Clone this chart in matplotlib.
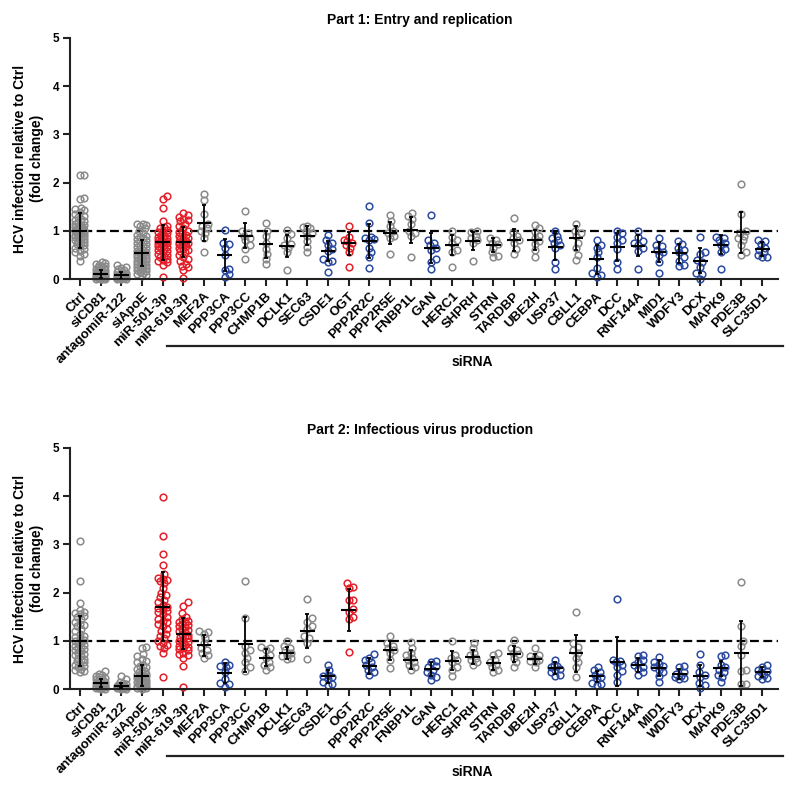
import numpy as np
import matplotlib
matplotlib.use("Agg")
import matplotlib.pyplot as plt
import matplotlib.transforms as mtransforms

plt.rcParams['font.family'] = ['Liberation Sans', 'DejaVu Sans']
plt.rcParams['font.weight'] = 'bold'

categories = ["Ctrl", "siCD81", "antagomiR-122", "siApoE", "miR-501-3p", "miR-619-3p",
              "MEF2A", "PPP3CA", "PPP3CC", "CHMP1B", "DCLK1", "SEC63", "CSDE1", "OGT",
              "PPP2R2C", "PPP2R5E", "FNBP1L", "GAN", "HERC1", "SHPRH", "STRN", "TARDBP",
              "UBE2H", "USP37", "CBLL1", "CEBPA", "DCC", "RNF144A", "MID1", "WDFY3", "DCX",
              "MAPK9", "PDE3B", "SLC35D1"]

# colour group per category: g = grey, r = red, b = blue
color_groups = ["g", "g", "g", "g", "r", "r", "g", "b", "g", "g", "g", "g", "b", "r",
                "b", "g", "g", "b", "g", "g", "g", "g", "g", "b", "g", "b", "b", "b",
                "b", "b", "b", "b", "g", "b"]

# ---------------- Part 1: Entry and replication ----------------
part1_mean = [1.00, 0.10, 0.08, 0.53, 0.76, 0.76, 1.16, 0.49, 0.90, 0.72, 0.69, 0.90,
              0.58, 0.74, 0.79, 0.95, 1.01, 0.65, 0.71, 0.79, 0.71, 0.81, 0.81, 0.67,
              0.85, 0.41, 0.67, 0.69, 0.56, 0.53, 0.38, 0.71, 0.97, 0.62]
part1_sd = [0.36, 0.08, 0.07, 0.27, 0.37, 0.31, 0.38, 0.33, 0.26, 0.28, 0.23, 0.19,
            0.21, 0.24, 0.36, 0.23, 0.27, 0.31, 0.21, 0.19, 0.14, 0.23, 0.20, 0.28,
            0.25, 0.30, 0.29, 0.22, 0.21, 0.19, 0.26, 0.20, 0.43, 0.15]
part1_points = [
    [2.16, 2.15, 1.69, 1.65, 1.47, 1.45, 1.43, 1.40, 1.35, 1.30, 1.28, 1.25, 1.22, 1.20,
     1.18, 1.15, 1.13, 1.12, 1.10, 1.08, 1.06, 1.05, 1.04, 1.02, 1.01, 1.00, 0.99, 0.98,
     0.97, 0.96, 0.95, 0.94, 0.92, 0.91, 0.90, 0.88, 0.87, 0.85, 0.83, 0.82, 0.80, 0.78,
     0.76, 0.74, 0.72, 0.70, 0.68, 0.65, 0.62, 0.58, 0.55, 0.52, 0.48, 0.37],
    [0.35, 0.33, 0.32, 0.30, 0.28, 0.27, 0.25, 0.24, 0.22, 0.21, 0.20, 0.19, 0.18, 0.17,
     0.16, 0.15, 0.14, 0.13, 0.12, 0.12, 0.11, 0.10, 0.10, 0.09, 0.08, 0.08, 0.07, 0.07,
     0.06, 0.06, 0.05, 0.05, 0.04, 0.04, 0.03, 0.03, 0.02, 0.02, 0.01, 0.01, 0.00, 0.00],
    [0.30, 0.25, 0.22, 0.20, 0.18, 0.15, 0.14, 0.12, 0.11, 0.10, 0.09, 0.08, 0.08, 0.07,
     0.06, 0.06, 0.05, 0.05, 0.04, 0.04, 0.03, 0.03, 0.02, 0.02, 0.01, 0.01, 0.00],
    [1.15, 1.14, 1.12, 1.10, 1.05, 1.00, 0.95, 0.92, 0.90, 0.88, 0.85, 0.82, 0.80, 0.78,
     0.76, 0.74, 0.72, 0.70, 0.68, 0.66, 0.64, 0.62, 0.60, 0.58, 0.56, 0.55, 0.53, 0.52,
     0.50, 0.48, 0.47, 0.45, 0.43, 0.42, 0.40, 0.38, 0.37, 0.35, 0.33, 0.32, 0.30, 0.28,
     0.26, 0.25, 0.23, 0.21, 0.20, 0.18, 0.16, 0.14, 0.12, 0.10, 0.08, 0.06],
    [1.72, 1.67, 1.47, 1.20, 1.10, 1.08, 1.05, 1.02, 1.00, 0.98, 0.95, 0.92, 0.90, 0.88,
     0.85, 0.83, 0.82, 0.80, 0.78, 0.77, 0.76, 0.75, 0.74, 0.72, 0.70, 0.68, 0.66, 0.64,
     0.62, 0.60, 0.58, 0.55, 0.52, 0.50, 0.48, 0.45, 0.42, 0.40, 0.38, 0.35, 0.30, 0.05],
    [1.37, 1.32, 1.28, 1.25, 1.22, 1.20, 1.15, 1.10, 1.05, 1.00, 0.98, 0.95, 0.92, 0.90,
     0.88, 0.85, 0.82, 0.80, 0.78, 0.77, 0.76, 0.75, 0.74, 0.72, 0.70, 0.68, 0.65, 0.62,
     0.60, 0.58, 0.55, 0.50, 0.45, 0.42, 0.38, 0.32, 0.28, 0.25, 0.18, 0.02],
    [1.77, 1.64, 1.35, 1.15, 1.10, 1.05, 1.00, 0.95, 0.85, 0.57],
    [1.02, 0.75, 0.72, 0.65, 0.50, 0.20, 0.18, 0.10, 0.05],
    [1.42, 1.00, 0.95, 0.90, 0.85, 0.80, 0.70, 0.62, 0.42],
    [1.17, 1.00, 0.90, 0.75, 0.62, 0.52, 0.42, 0.31],
    [1.02, 0.93, 0.85, 0.72, 0.70, 0.65, 0.55, 0.18],
    [1.10, 1.08, 1.05, 1.00, 0.95, 0.90, 0.78, 0.66, 0.55],
    [0.92, 0.80, 0.75, 0.70, 0.62, 0.58, 0.42, 0.38, 0.35, 0.15],
    [1.10, 0.88, 0.80, 0.78, 0.75, 0.70, 0.65, 0.55, 0.24],
    [1.52, 1.17, 0.88, 0.85, 0.82, 0.80, 0.65, 0.55, 0.45, 0.22],
    [1.32, 1.20, 1.10, 1.00, 0.95, 0.90, 0.85, 0.52],
    [1.37, 1.30, 1.25, 1.15, 1.00, 0.95, 0.90, 0.45],
    [1.32, 0.80, 0.75, 0.70, 0.65, 0.60, 0.42, 0.36, 0.20],
    [1.00, 0.88, 0.80, 0.75, 0.60, 0.55, 0.25],
    [1.00, 0.98, 0.90, 0.85, 0.80, 0.75, 0.38],
    [0.85, 0.80, 0.75, 0.72, 0.65, 0.55, 0.48, 0.45],
    [1.27, 0.98, 0.90, 0.85, 0.80, 0.75, 0.62, 0.52],
    [1.12, 1.05, 0.98, 0.90, 0.85, 0.78, 0.72, 0.60, 0.45],
    [1.00, 0.90, 0.85, 0.80, 0.75, 0.70, 0.65, 0.35, 0.20],
    [1.15, 1.00, 0.95, 0.90, 0.75, 0.65, 0.50, 0.40],
    [0.80, 0.70, 0.65, 0.55, 0.45, 0.22, 0.12, 0.08, 0.05],
    [1.00, 0.95, 0.88, 0.80, 0.75, 0.62, 0.35, 0.20],
    [1.00, 0.88, 0.78, 0.75, 0.70, 0.65, 0.58, 0.20],
    [0.85, 0.70, 0.68, 0.60, 0.55, 0.50, 0.35, 0.12],
    [0.78, 0.72, 0.65, 0.60, 0.55, 0.45, 0.38, 0.30, 0.27],
    [0.88, 0.55, 0.52, 0.40, 0.35, 0.25, 0.12, 0.10, 0.00],
    [0.88, 0.85, 0.80, 0.75, 0.70, 0.62, 0.55, 0.20],
    [1.98, 1.35, 1.00, 0.95, 0.90, 0.85, 0.80, 0.70, 0.55, 0.50],
    [0.80, 0.78, 0.72, 0.65, 0.60, 0.55, 0.50, 0.45, 0.45],
]

# ---------------- Part 2: Infectious virus production ----------------
part2_mean = [1.00, 0.12, 0.07, 0.28, 1.71, 1.15, 0.91, 0.33, 0.93, 0.65, 0.75, 1.21,
              0.26, 1.64, 0.48, 0.80, 0.61, 0.41, 0.59, 0.66, 0.53, 0.72, 0.62, 0.43,
              0.74, 0.26, 0.57, 0.50, 0.44, 0.31, 0.28, 0.43, 0.74, 0.35]
part2_sd = [0.52, 0.08, 0.05, 0.21, 0.72, 0.33, 0.22, 0.20, 0.57, 0.18, 0.12, 0.35,
            0.14, 0.43, 0.16, 0.20, 0.19, 0.14, 0.19, 0.15, 0.13, 0.17, 0.11, 0.12,
            0.39, 0.12, 0.50, 0.14, 0.16, 0.10, 0.22, 0.16, 0.67, 0.10]
part2_points = [
    [3.07, 2.24, 1.78, 1.63, 1.60, 1.58, 1.55, 1.52, 1.50, 1.45, 1.40, 1.35, 1.32, 1.30,
     1.25, 1.20, 1.15, 1.10, 1.08, 1.05, 1.02, 1.00, 0.97, 0.95, 0.92, 0.90, 0.88, 0.85,
     0.82, 0.80, 0.78, 0.75, 0.72, 0.70, 0.68, 0.65, 0.62, 0.60, 0.58, 0.55, 0.52, 0.50,
     0.48, 0.45, 0.42, 0.40, 0.38, 0.36],
    [0.38, 0.32, 0.30, 0.27, 0.25, 0.23, 0.21, 0.20, 0.18, 0.17, 0.16, 0.15, 0.14, 0.13,
     0.12, 0.11, 0.10, 0.10, 0.09, 0.08, 0.08, 0.07, 0.06, 0.06, 0.05, 0.05, 0.04, 0.03,
     0.03, 0.02, 0.01, 0.00],
    [0.27, 0.20, 0.15, 0.12, 0.10, 0.09, 0.08, 0.07, 0.06, 0.06, 0.05, 0.05, 0.04, 0.04,
     0.03, 0.03, 0.02, 0.02, 0.01, 0.00],
    [0.87, 0.85, 0.72, 0.68, 0.62, 0.58, 0.55, 0.50, 0.48, 0.45, 0.42, 0.40, 0.38, 0.36,
     0.34, 0.32, 0.30, 0.28, 0.27, 0.26, 0.25, 0.24, 0.23, 0.22, 0.20, 0.19, 0.18, 0.17,
     0.16, 0.15, 0.14, 0.13, 0.12, 0.11, 0.10, 0.09, 0.08, 0.07, 0.06, 0.05, 0.04, 0.03,
     0.02, 0.01],
    [3.98, 3.17, 2.81, 2.58, 2.38, 2.30, 2.28, 2.27, 2.25, 2.20, 2.10, 2.00, 1.95, 1.90,
     1.85, 1.80, 1.75, 1.70, 1.68, 1.65, 1.62, 1.60, 1.55, 1.50, 1.45, 1.42, 1.38, 1.35,
     1.30, 1.25, 1.20, 1.15, 1.10, 1.05, 1.00, 0.95, 0.92, 0.90, 0.85, 0.75, 0.25],
    [1.80, 1.72, 1.57, 1.50, 1.45, 1.42, 1.40, 1.38, 1.35, 1.32, 1.30, 1.28, 1.25, 1.22,
     1.20, 1.18, 1.15, 1.12, 1.10, 1.08, 1.05, 1.02, 1.00, 0.98, 0.95, 0.92, 0.90, 0.88,
     0.85, 0.82, 0.80, 0.75, 0.72, 0.70, 0.65, 0.47, 0.05],
    [1.20, 1.18, 1.15, 1.05, 0.95, 0.85, 0.80, 0.75, 0.70, 0.65],
    [0.55, 0.50, 0.48, 0.45, 0.35, 0.20, 0.12, 0.10, 0.05],
    [2.25, 1.48, 0.90, 0.80, 0.75, 0.65, 0.55, 0.45, 0.38],
    [0.88, 0.85, 0.80, 0.70, 0.65, 0.55, 0.50, 0.45, 0.40],
    [1.00, 0.90, 0.85, 0.80, 0.75, 0.70, 0.68, 0.65, 0.62],
    [1.87, 1.47, 1.40, 1.30, 1.25, 1.10, 1.05, 0.95, 0.62],
    [0.50, 0.40, 0.30, 0.28, 0.25, 0.20, 0.15, 0.10, 0.08],
    [2.20, 2.12, 2.10, 1.85, 1.84, 1.65, 1.60, 1.50, 1.45, 0.76],
    [0.72, 0.65, 0.60, 0.55, 0.50, 0.45, 0.40, 0.35, 0.30],
    [1.10, 0.95, 0.90, 0.85, 0.80, 0.75, 0.60, 0.44],
    [0.98, 0.85, 0.75, 0.70, 0.65, 0.60, 0.55, 0.50, 0.45, 0.40],
    [0.58, 0.55, 0.48, 0.45, 0.40, 0.35, 0.30, 0.25, 0.18],
    [1.00, 0.70, 0.65, 0.60, 0.55, 0.45, 0.40, 0.28],
    [0.95, 0.85, 0.75, 0.70, 0.65, 0.60, 0.55, 0.50],
    [0.75, 0.70, 0.60, 0.55, 0.50, 0.45, 0.40, 0.35],
    [1.02, 0.85, 0.80, 0.75, 0.72, 0.65, 0.55, 0.45],
    [0.85, 0.70, 0.68, 0.65, 0.60, 0.58, 0.55, 0.45],
    [0.60, 0.50, 0.48, 0.45, 0.42, 0.40, 0.35, 0.30, 0.28],
    [1.60, 0.95, 0.88, 0.80, 0.75, 0.65, 0.55, 0.45, 0.25],
    [0.45, 0.40, 0.35, 0.30, 0.25, 0.20, 0.12, 0.10, 0.08],
    [1.86, 0.60, 0.58, 0.55, 0.50, 0.45, 0.38, 0.30, 0.15],
    [0.70, 0.68, 0.60, 0.55, 0.50, 0.45, 0.42, 0.35, 0.30],
    [0.67, 0.55, 0.52, 0.48, 0.45, 0.40, 0.35, 0.28, 0.15],
    [0.48, 0.45, 0.35, 0.32, 0.28, 0.25, 0.22, 0.20],
    [0.72, 0.50, 0.35, 0.30, 0.25, 0.12, 0.08, 0.02],
    [0.70, 0.68, 0.50, 0.45, 0.40, 0.35, 0.30, 0.25, 0.15],
    [2.22, 1.30, 1.00, 0.90, 0.70, 0.40, 0.38, 0.10, 0.10],
    [0.50, 0.45, 0.40, 0.38, 0.35, 0.30, 0.28, 0.22, 0.20],
]

titles = ["Part 1: Entry and replication", "Part 2: Infectious virus production"]
ylabel = "HCV infection relative to Ctrl\n(fold change)"
bracket_label = "siRNA"

palette = {"g": "#8a8a8a", "r": "#e3202a", "b": "#2b4aa0"}

W, H = 800, 799
fig = plt.figure(figsize=(W / 100, H / 100), dpi=100)

# axes boxes in pixels: left, right, top(y=5), bottom(y=0)
boxes = [(70, 778, 38, 279), (70, 778, 448, 689)]

XMIN, XMAX = -0.48, 33.77


def swarm(vals, ppx, ppy, dmin=5.0, maxw=4.5, step=1.5):
    """simple beeswarm layout (pixels), returns x offsets in data units"""
    vals = np.asarray(vals, float)
    order = np.argsort(vals)
    placed = []
    offs = np.zeros(len(vals))
    cands = [0.0]
    k = 1
    while k * step <= maxw + 1e-9:
        cands += [k * step, -k * step]
        k += 1
    for i in order:
        y = vals[i] * ppy
        best, bestd, bd = None, -1, 0.0
        for c in cands:
            if not placed:
                best = c
                break
            d = min(np.hypot(c - px, y - py) for px, py in placed)
            if d >= dmin:
                best = c
                break
            if d > bestd:
                bestd, bd = d, c
        if best is None:
            best = bd
        placed.append((best, y))
        offs[i] = best / ppx
    return offs


panels = [(part1_points, part1_mean, part1_sd), (part2_points, part2_mean, part2_sd)]

for pi, ((l, r, t, b), (pts, means, sds)) in enumerate(zip(boxes, panels)):
    ax = fig.add_axes([l / W, 1 - b / H, (r - l) / W, (b - t) / H])
    ax.set_xlim(XMIN, XMAX)
    ax.set_ylim(0, 5)
    ppx = (r - l) / (XMAX - XMIN)
    ppy = (b - t) / 5.0

    ax.axhline(1.0, color="black", lw=1.6, ls=(0, (4, 2)), zorder=1)

    for i, (vals, m, s) in enumerate(zip(pts, means, sds)):
        col = palette[color_groups[i]]
        offs = swarm(vals, ppx, ppy)
        ax.plot(i + offs, vals, ls="none", marker="o", ms=4.8, mfc="none",
                mec=col, mew=1.1, clip_on=False, zorder=2)
        ax.hlines(m, i - 0.36, i + 0.36, color="black", lw=1.5, zorder=3)
        ax.vlines(i, max(m - s, 0), m + s, color="black", lw=1.3, zorder=3)
        ax.hlines([m + s, max(m - s, 0)], i - 0.1, i + 0.1, color="black", lw=1.3, zorder=3)

    for sp in ["top", "right"]:
        ax.spines[sp].set_visible(False)
    for sp in ["left", "bottom"]:
        ax.spines[sp].set_linewidth(1.5)
        ax.spines[sp].set_color("#222222")

    ax.set_yticks(range(6))
    ax.set_yticklabels([str(v) for v in range(6)], fontsize=8.5, fontweight="bold")
    ax.tick_params(axis="y", length=5, width=1.5, pad=3, colors="#222222", labelcolor="black")
    ax.set_xticks(range(len(categories)))
    ax.set_xticklabels(categories, rotation=45, ha="right", rotation_mode="anchor",
                       fontsize=9.5, fontweight="bold")
    ax.tick_params(axis="x", length=5, width=1.5, pad=3, colors="#222222", labelcolor="black")

    ax.set_title(titles[pi], fontsize=10, fontweight="bold", pad=10, x=0.494)
    ax.text(-0.059, 0.5, ylabel, transform=ax.transAxes, rotation=90, ha="center",
            va="center", fontsize=10, fontweight="bold", linespacing=1.3,
            multialignment="center")

    # siRNA bracket line
    trans = mtransforms.blended_transform_factory(ax.transData, ax.transAxes)
    ax.plot([4.2, 34.0], [-0.278, -0.278], color="#222222", lw=1.6, transform=trans,
            clip_on=False)
    ax.text(19.0, -0.345, bracket_label, transform=trans, ha="center", va="center",
            fontsize=10, fontweight="bold")

fig.savefig("out.png", dpi=100)
